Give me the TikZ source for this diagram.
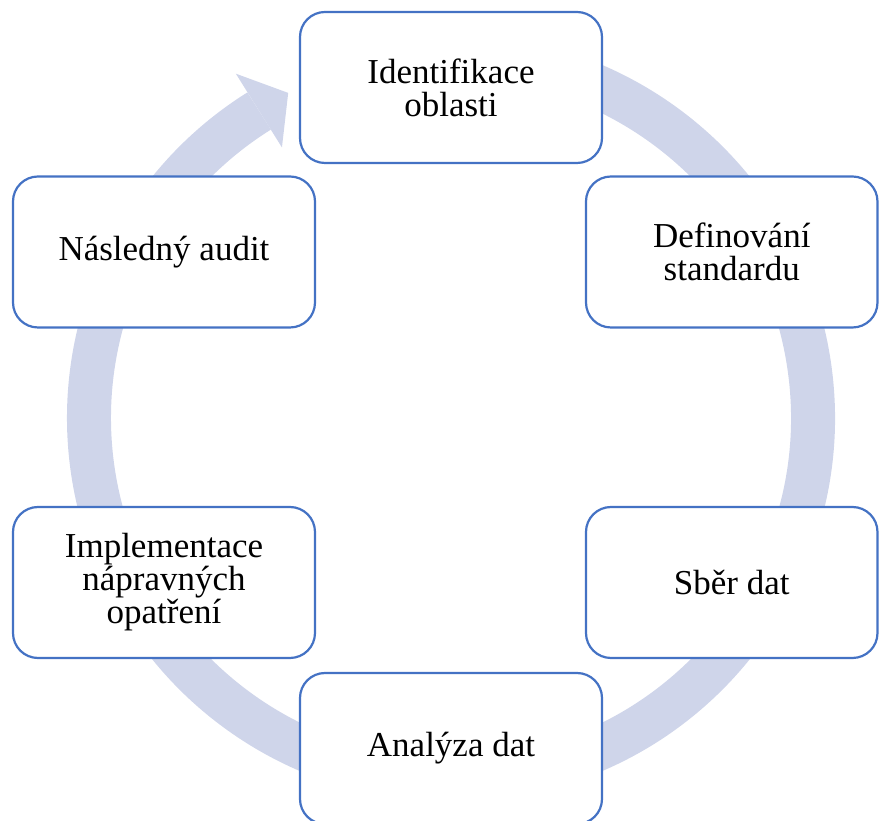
\documentclass[tikz,border=0pt]{standalone}
\usepackage{fontspec}
\setmainfont{Liberation Serif}
\definecolor{okraj}{RGB}{68,114,196}
\definecolor{kruhbarva}{RGB}{207,213,234}
\begin{document}
\begin{tikzpicture}[x=1pt,y=1pt,
    krok/.style={draw=okraj,line width=2.2pt,fill=white,rounded corners=25pt,
      minimum width=302pt,minimum height=151pt,inner sep=0pt,align=center,
      font=\fontsize{35}{33}\selectfont},
    vpravo/.style={krok,minimum width=291.5pt},
    prsten/.style={draw=kruhbarva,line width=44pt}]
  \useasboundingbox (-451,-403) rectangle (428,418);
  \draw[prsten] (100:362) arc[start angle=100,end angle=-238,radius=362];
  \fill[kruhbarva] (122:406) -- (116.6:363.6) -- (122:319) -- cycle;
  \node[krok] (identifikace) at (0,330.5) {Identifikace\\oblasti};
  \node[vpravo] (definovani) at (280.75,166) {Definování\\standardu};
  \node[vpravo] (sber) at (280.75,-164.5) {Sběr dat};
  \node[krok] (analyza) at (0,-330.5) {Analýza dat};
  \node[krok] (implementace) at (-287,-164.5) {Implementace\\nápravných\\opatření};
  \node[krok] (audit) at (-287,166) {Následný audit};
\end{tikzpicture}
\end{document}
